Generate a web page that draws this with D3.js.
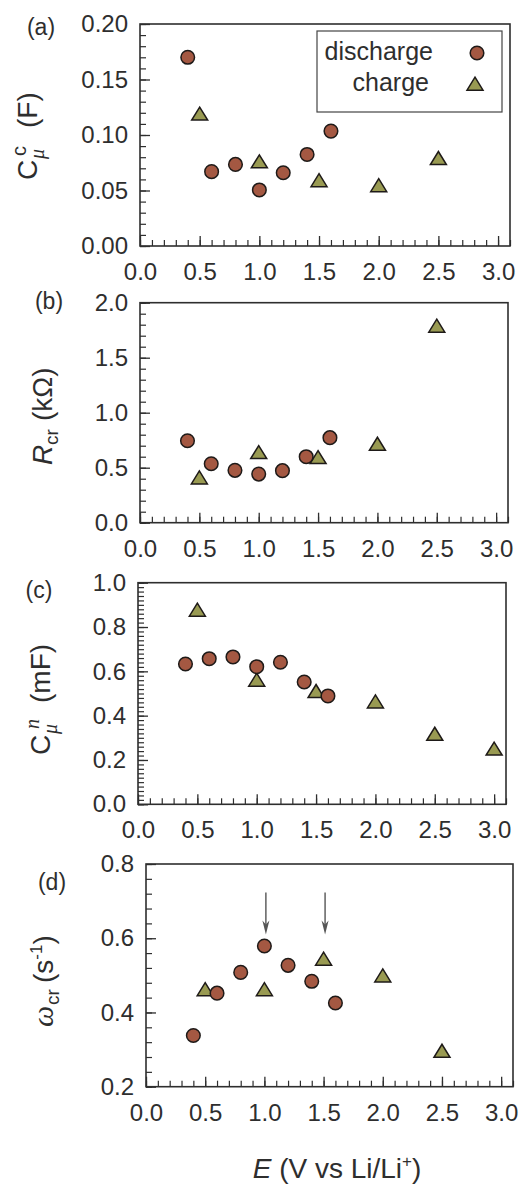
<!DOCTYPE html>
<html><head><meta charset="utf-8">
<script src="https://cdn.jsdelivr.net/npm/d3@7"></script>
<style>
body{margin:0;background:#fff}
text{font-family:"Liberation Sans",Arial,sans-serif;fill:#2e2e2e}
</style>
</head><body>
<svg id="chart" width="526" height="1190"></svg>
<script>
// ---------- data ----------
const xTickValues = [0, 0.5, 1.0, 1.5, 2.0, 2.5, 3.0];
const eDischarge = [0.4, 0.6, 0.8, 1.0, 1.2, 1.4, 1.6];
const eChargeA = [0.5, 1.0, 1.5, 2.0, 2.5];
const eChargeB = [0.5, 1.0, 1.5, 2.0, 2.5];
const eChargeC = [0.5, 1.0, 1.5, 2.0, 2.5, 3.0];
const eChargeD = [0.5, 1.0, 1.5, 2.0, 2.5];

const capCDischarge = [0.170, 0.067, 0.0735, 0.0505, 0.066, 0.0825, 0.1035];
const capCCharge    = [0.119, 0.076, 0.059, 0.0545, 0.079];
const rcrDischarge  = [0.745, 0.536, 0.476, 0.442, 0.473, 0.600, 0.773];
const rcrCharge     = [0.409, 0.639, 0.594, 0.715, 1.788];
const capNDischarge = [0.633, 0.657, 0.665, 0.621, 0.641, 0.552, 0.489];
const capNCharge    = [0.877, 0.561, 0.510, 0.463, 0.317, 0.250];
const wcrDischarge  = [0.338, 0.452, 0.508, 0.579, 0.527, 0.484, 0.4255];
const wcrCharge     = [0.462, 0.462, 0.544, 0.499, 0.296];

const yTicksA = [0.00, 0.05, 0.10, 0.15, 0.20];
const yTicksB = [0.0, 0.5, 1.0, 1.5, 2.0];
const yTicksC = [0.0, 0.2, 0.4, 0.6, 0.8, 1.0];
const yTicksD = [0.2, 0.4, 0.6, 0.8];

const arrowE = [1.0, 1.5];
const arrowFrom = 0.723, arrowTo = 0.610;

const legendLabels = ["discharge", "charge"];
const panelLetters = ["(a)", "(b)", "(c)", "(d)"];

// ---------- style ----------
const circleFill = "#a45842", triFill = "#999a52", markStroke = "#1e1a18";
const axisColor = "#2e2e2e";
const sans = '"Liberation Sans",Arial,sans-serif';

const svg = d3.select("#chart");

const panels = [
  {L:140, R:510, T:24,    B:246,   yDom:[0,0.2], yTicks:yTicksA, minor:0.01, fmt:d3.format(".2f"),
   dis:capCDischarge, chgE:eChargeA, chg:capCCharge, letter:[41,35]},
  {L:140, R:508, T:302.7, B:522.7, yDom:[0,2.0], yTicks:yTicksB, minor:0.1, fmt:d3.format(".1f"),
   dis:rcrDischarge, chgE:eChargeB, chg:rcrCharge, letter:[49,309]},
  {L:138, R:506, T:582.7, B:804.3, yDom:[0,1.0], yTicks:yTicksC, minor:0.02, fmt:d3.format(".1f"),
   dis:capNDischarge, chgE:eChargeC, chg:capNCharge, letter:[39,598]},
  {L:146, R:513, T:864,   B:1086.7,yDom:[0.2,0.8], yTicks:yTicksD, minor:0.04, fmt:d3.format(".1f"),
   dis:wcrDischarge, chgE:eChargeD, chg:wcrCharge, letter:[52,890]}
];

const triPath = "M0,-6.8L8,6.2L-8,6.2Z";

panels.forEach((p, i) => {
  const x = d3.scaleLinear().domain([0, 3.1]).range([p.L, p.R]);
  const y = d3.scaleLinear().domain(p.yDom).range([p.B, p.T]);
  const g = svg.append("g");

  const xMinor = d3.range(0, 3.1001, 0.1).map(v => +v.toFixed(2));
  const yMinor = d3.range(p.yDom[0], p.yDom[1] + 1e-9, p.minor).map(v => +v.toFixed(3));
  g.append("g").attr("transform", `translate(0,${p.B})`)
    .call(d3.axisBottom(x).tickValues(xMinor).tickSize(-6).tickFormat(""))
    .call(a => a.select(".domain").remove())
    .call(a => a.selectAll("line").attr("stroke", axisColor).attr("stroke-width", 1.2));
  g.append("g").attr("transform", `translate(${p.L},0)`)
    .call(d3.axisLeft(y).tickValues(yMinor).tickSize(-6).tickFormat(""))
    .call(a => a.select(".domain").remove())
    .call(a => a.selectAll("line").attr("stroke", axisColor).attr("stroke-width", 1.2));

  g.append("g").attr("transform", `translate(0,${p.B})`)
    .call(d3.axisBottom(x).tickValues(xTickValues).tickSize(-10).tickPadding(17).tickFormat(d3.format(".1f")))
    .call(a => a.select(".domain").remove())
    .call(a => a.selectAll("line").attr("stroke", axisColor).attr("stroke-width", 1.3))
    .call(a => a.selectAll("text").attr("font-size", 24).attr("fill", "#2e2e2e").style("font-family", sans));
  g.append("g").attr("transform", `translate(${p.L},0)`)
    .call(d3.axisLeft(y).tickValues(p.yTicks).tickSize(-10).tickPadding(12).tickFormat(p.fmt))
    .call(a => a.select(".domain").remove())
    .call(a => a.selectAll("line").attr("stroke", axisColor).attr("stroke-width", 1.3))
    .call(a => a.selectAll("text").attr("font-size", 24).attr("fill", "#2e2e2e").style("font-family", sans));

  g.append("rect").attr("x", p.L).attr("y", p.T).attr("width", p.R - p.L).attr("height", p.B - p.T)
    .attr("fill", "none").attr("stroke", axisColor).attr("stroke-width", 1.6);

  g.selectAll(".tri").data(p.chgE.map((e, k) => [e, p.chg[k]])).enter().append("path")
    .attr("d", triPath).attr("transform", d => `translate(${x(d[0])},${y(d[1])})`)
    .attr("fill", triFill).attr("stroke", markStroke).attr("stroke-width", 1.5);
  g.selectAll(".cir").data(eDischarge.map((e, k) => [e, p.dis[k]])).enter().append("circle")
    .attr("cx", d => x(d[0])).attr("cy", d => y(d[1])).attr("r", 6.8)
    .attr("fill", circleFill).attr("stroke", markStroke).attr("stroke-width", 1.5);

  svg.append("text").attr("x", p.letter[0]).attr("y", p.letter[1]).attr("text-anchor", "middle")
    .attr("font-size", 23).text(panelLetters[i]);

  p.x = x; p.y = y;
});

// ---------- legend (panel a) ----------
const lg = svg.append("g");
lg.append("rect").attr("x", 317).attr("y", 31).attr("width", 185).attr("height", 81)
  .attr("fill", "#fff").attr("stroke", "#444").attr("stroke-width", 1.2);
lg.append("text").attr("x", 433).attr("y", 60).attr("text-anchor", "end").attr("font-size", 25).text(legendLabels[0]);
lg.append("text").attr("x", 429).attr("y", 91).attr("text-anchor", "end").attr("font-size", 25).text(legendLabels[1]);
lg.append("circle").attr("cx", 477).attr("cy", 53).attr("r", 6.8)
  .attr("fill", circleFill).attr("stroke", markStroke).attr("stroke-width", 1.5);
lg.append("path").attr("d", triPath).attr("transform", "translate(475,84)")
  .attr("fill", triFill).attr("stroke", markStroke).attr("stroke-width", 1.5);

// ---------- arrows (panel d) ----------
const pd = panels[3];
arrowE.forEach(e => {
  const ax = pd.x(e) + 1.5, y1 = pd.y(arrowFrom), y2 = pd.y(arrowTo);
  svg.append("line").attr("x1", ax).attr("x2", ax).attr("y1", y1).attr("y2", y2 - 8)
    .attr("stroke", "#555").attr("stroke-width", 1.4);
  svg.append("path").attr("d", `M${ax - 3.5},${y2 - 14}L${ax},${y2}L${ax + 3.5},${y2 - 14}L${ax},${y2 - 10}Z`)
    .attr("fill", "#555");
});

// ---------- y-axis titles ----------
function yTitle(tx, ty, parts) {
  const g = svg.append("g").attr("transform", `translate(${tx},${ty}) rotate(-90)`);
  parts.forEach(pt => {
    const t = g.append("text").attr("x", pt.x).attr("y", pt.y || 0).attr("font-size", pt.s)
      .attr("font-style", pt.it ? "italic" : "normal").text(pt.t);
    if (pt.f) t.style("font-family", pt.f);
  });
  return g;
}
const serif = '"Liberation Serif","Times New Roman",serif';
yTitle(37, 180, [
  {t:"C", x:0, s:28}, {t:"\u03bc", x:21, y:7, s:20, it:true, f:serif}, {t:"c", x:24, y:-11, s:20},
  {t:"(F)", x:52, s:28}
]);
yTitle(52, 465, [
  {t:"R", x:0, s:28, it:true}, {t:"cr", x:20, y:6, s:19}, {t:"(k\u03a9)", x:44, s:28}
]);
yTitle(50, 755, [
  {t:"C", x:0, s:28}, {t:"\u03bc", x:21, y:7, s:20, it:true, f:serif}, {t:"n", x:26, y:-11, s:20, it:true, f:serif},
  {t:"(mF)", x:52, s:28}
]);
(function(){
  const g = yTitle(53, 1027, [
    {t:"\u03c9", x:0, s:30, it:true, f:serif}, {t:"cr", x:22, y:6, s:19}
  ]);
  const t = g.append("text").attr("x", 44).attr("y", 0).attr("font-size", 28);
  t.append("tspan").text("(s");
  t.append("tspan").attr("dy", -11).attr("font-size", 17).text("-1");
  t.append("tspan").attr("dy", 11).text(")");
})();

// ---------- x-axis title ----------
const xt = svg.append("text").attr("x", 337).attr("y", 1178).attr("text-anchor", "middle").attr("font-size", 28);
xt.append("tspan").attr("font-style", "italic").text("E");
xt.append("tspan").text(" (V vs Li/Li");
xt.append("tspan").attr("dy", -11).attr("font-size", 17).text("+");
xt.append("tspan").attr("dy", 11).text(")");
</script>
</body></html>
